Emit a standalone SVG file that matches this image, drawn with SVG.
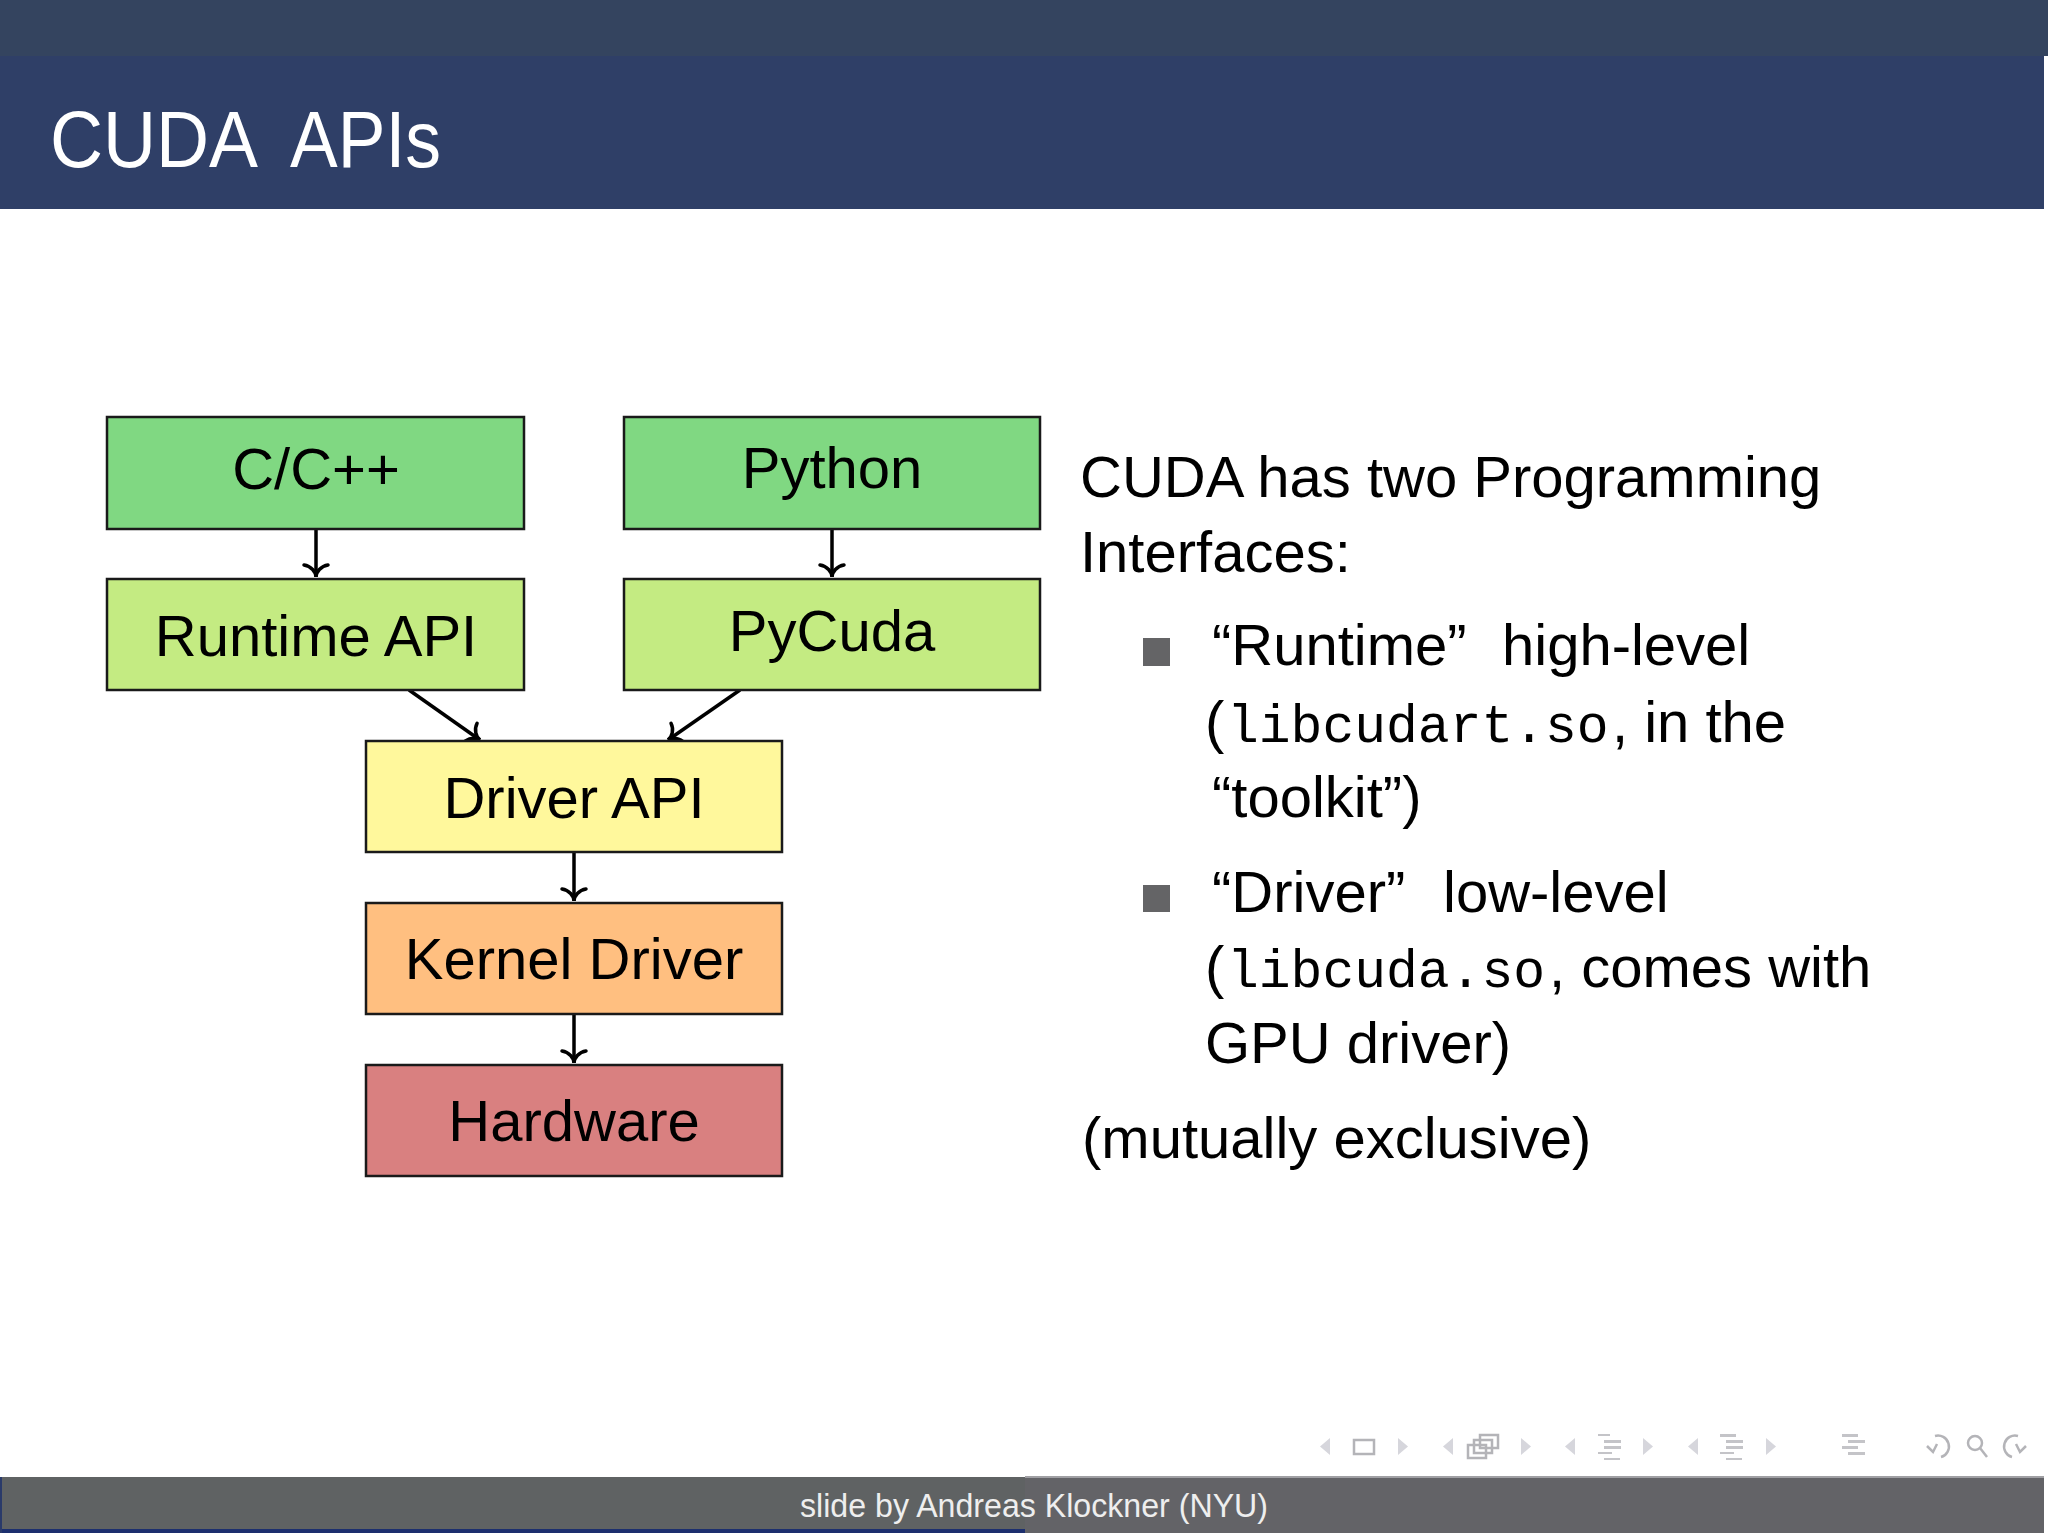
<svg xmlns="http://www.w3.org/2000/svg" width="2048" height="1536" viewBox="0 0 2048 1536">
<style>
.box{stroke:#1a1a1a;stroke-width:2.5}
.lbl{font-family:"Liberation Sans",Arial,sans-serif;font-size:58px;fill:#000;text-anchor:middle}
.body{font-family:"Liberation Sans",Arial,sans-serif;font-size:58px;fill:#000}
.mono{font-family:"Liberation Mono","Courier New",monospace;font-size:53px}
.conn{stroke:#000;stroke-width:3.5;fill:none}
.tri{fill:#d6d6dc}
.ico{stroke:#b4b4b8;stroke-width:2.5;fill:none}
.bar{fill:#c4c4c8}
</style>
<defs>
<marker id="arr" markerUnits="userSpaceOnUse" orient="auto" viewBox="-16 -15 20 30" refX="0" refY="0" markerWidth="20" markerHeight="30" overflow="visible">
<path d="M -12 -12 C -11 -5 -5 0 0 0 C -5 0 -11 5 -12 12" fill="none" stroke="#000" stroke-width="3.5" stroke-linecap="round"/>
</marker>
</defs>
<rect x="0" y="0" width="2048" height="1536" fill="#ffffff"/>
<g id="header">
<rect x="0" y="0" width="2048" height="56" fill="#34445f"/>
<rect x="0" y="56" width="2044" height="153" fill="#2f3f67"/>
<text y="167" font-family="Liberation Sans,Arial,sans-serif" font-size="80" fill="#ffffff"><tspan x="50" textLength="208" lengthAdjust="spacingAndGlyphs">CUDA</tspan><tspan x="290" textLength="151" lengthAdjust="spacingAndGlyphs">APIs</tspan></text>
</g>
<g id="connectors">
<line class="conn" x1="316" y1="529" x2="316" y2="577" marker-end="url(#arr)"/>
<line class="conn" x1="832" y1="529" x2="832" y2="577" marker-end="url(#arr)"/>
<line class="conn" x1="409" y1="690" x2="480" y2="740" marker-end="url(#arr)"/>
<line class="conn" x1="740" y1="690" x2="668" y2="740" marker-end="url(#arr)"/>
<line class="conn" x1="574" y1="852" x2="574" y2="901" marker-end="url(#arr)"/>
<line class="conn" x1="574" y1="1014" x2="574" y2="1063" marker-end="url(#arr)"/>
</g>
<g id="node-cpp">
<rect class="box" x="107" y="417" width="417" height="112" fill="#80d882"/>
<text class="lbl" x="316" y="489">C/C++</text>
</g>
<g id="node-python">
<rect class="box" x="624" y="417" width="416" height="112" fill="#80d882"/>
<text class="lbl" x="832" y="488">Python</text>
</g>
<g id="node-runtime">
<rect class="box" x="107" y="579" width="417" height="111" fill="#c4eb82"/>
<text class="lbl" x="316" y="656">Runtime API</text>
</g>
<g id="node-pycuda">
<rect class="box" x="624" y="579" width="416" height="111" fill="#c4eb82"/>
<text class="lbl" x="832" y="651">PyCuda</text>
</g>
<g id="node-driver">
<rect class="box" x="366" y="741" width="416" height="111" fill="#fff89c"/>
<text class="lbl" x="574" y="818">Driver API</text>
</g>
<g id="node-kernel">
<rect class="box" x="366" y="903" width="416" height="111" fill="#ffbf80"/>
<text class="lbl" x="574" y="979">Kernel Driver</text>
</g>
<g id="node-hardware">
<rect class="box" x="366" y="1065" width="416" height="111" fill="#d98080"/>
<text class="lbl" x="574" y="1141">Hardware</text>
</g>
<g id="description">
<text class="body" x="1080" y="497">CUDA has two Programming</text>
<text class="body" x="1080" y="572">Interfaces:</text>
<rect x="1143" y="638" width="27" height="28" fill="#646466"/>
<text class="body" y="665"><tspan x="1212">“Runtime”</tspan><tspan x="1502">high-level</tspan></text>
<text class="body" y="742"><tspan x="1205">(</tspan><tspan class="mono" x="1227">libcudart.so</tspan><tspan x="1612">, in the</tspan></text>
<text class="body" x="1212" y="817">“toolkit”)</text>
<rect x="1143" y="885" width="27" height="27" fill="#646466"/>
<text class="body" y="912"><tspan x="1212">“Driver”</tspan><tspan x="1443">low-level</tspan></text>
<text class="body" y="987"><tspan x="1205">(</tspan><tspan class="mono" x="1227">libcuda.so</tspan><tspan x="1549">, comes with</tspan></text>
<text class="body" x="1205" y="1063">GPU driver)</text>
<text class="body" x="1082" y="1158">(mutually exclusive)</text>
</g>
<g id="nav">
<polygon class="tri" points="1330,1438 1330,1455 1320,1446.5"/>
<rect class="ico" x="1354" y="1440" width="20" height="14"/>
<polygon class="tri" points="1398,1438 1398,1455 1408,1446.5"/>
<polygon class="tri" points="1453,1438 1453,1455 1443,1446.5"/>
<rect class="ico" x="1480" y="1435" width="18" height="13"/>
<rect class="ico" x="1474" y="1440" width="18" height="13" fill="#fff"/>
<rect class="ico" x="1468" y="1445" width="18" height="13" fill="#fff"/>
<polygon class="tri" points="1521,1438 1521,1455 1531,1446.5"/>
<polygon class="tri" points="1575,1438 1575,1455 1565,1446.5"/>
<rect class="bar" x="1598" y="1434" width="12" height="2"/>
<rect class="bar" x="1604" y="1440" width="17" height="3"/>
<rect class="bar" x="1604" y="1446" width="17" height="3"/>
<rect class="bar" x="1598" y="1452" width="14" height="2"/>
<rect class="bar" x="1604" y="1458" width="16" height="2"/>
<polygon class="tri" points="1643,1438 1643,1455 1653,1446.5"/>
<polygon class="tri" points="1698,1438 1698,1455 1688,1446.5"/>
<rect class="bar" x="1720" y="1434" width="16" height="3"/>
<rect class="bar" x="1726" y="1440" width="17" height="3"/>
<rect class="bar" x="1726" y="1446" width="17" height="3"/>
<rect class="bar" x="1720" y="1452" width="14" height="2"/>
<rect class="bar" x="1726" y="1458" width="16" height="2"/>
<polygon class="tri" points="1766,1438 1766,1455 1776,1446.5"/>
<rect class="bar" x="1842" y="1434" width="16" height="3"/>
<rect class="bar" x="1848" y="1440" width="17" height="3"/>
<rect class="bar" x="1842" y="1446" width="16" height="3"/>
<rect class="bar" x="1848" y="1452" width="17" height="3"/>
<path class="ico" d="M 1935 1436 A 10 10 0 1 1 1941 1457 M 1927 1446 L 1933 1452 L 1937 1444"/>
<circle class="ico" cx="1975" cy="1443" r="7"/>
<line class="ico" x1="1980" y1="1448" x2="1987" y2="1457"/>
<path class="ico" d="M 2018 1436 A 10 10 0 1 0 2012 1457 M 2026 1446 L 2020 1452 L 2016 1444"/>
</g>
<g id="footer">
<rect x="0" y="1477" width="1025" height="56" fill="#5f6263"/>
<rect x="1025" y="1477" width="1019" height="56" fill="#636367"/>
<rect x="1025" y="1476" width="1019" height="2" fill="#a0a0a4"/>
<rect x="0" y="1529" width="1025" height="4" fill="#1c2f6e"/>
<rect x="0" y="1477" width="2" height="56" fill="#2a3a6a"/>
<text x="800" y="1517" font-family="Liberation Sans,Arial,sans-serif" font-size="34" fill="#eeeeee" textLength="468" lengthAdjust="spacingAndGlyphs">slide by Andreas Klockner (NYU)</text>
</g>
</svg>
